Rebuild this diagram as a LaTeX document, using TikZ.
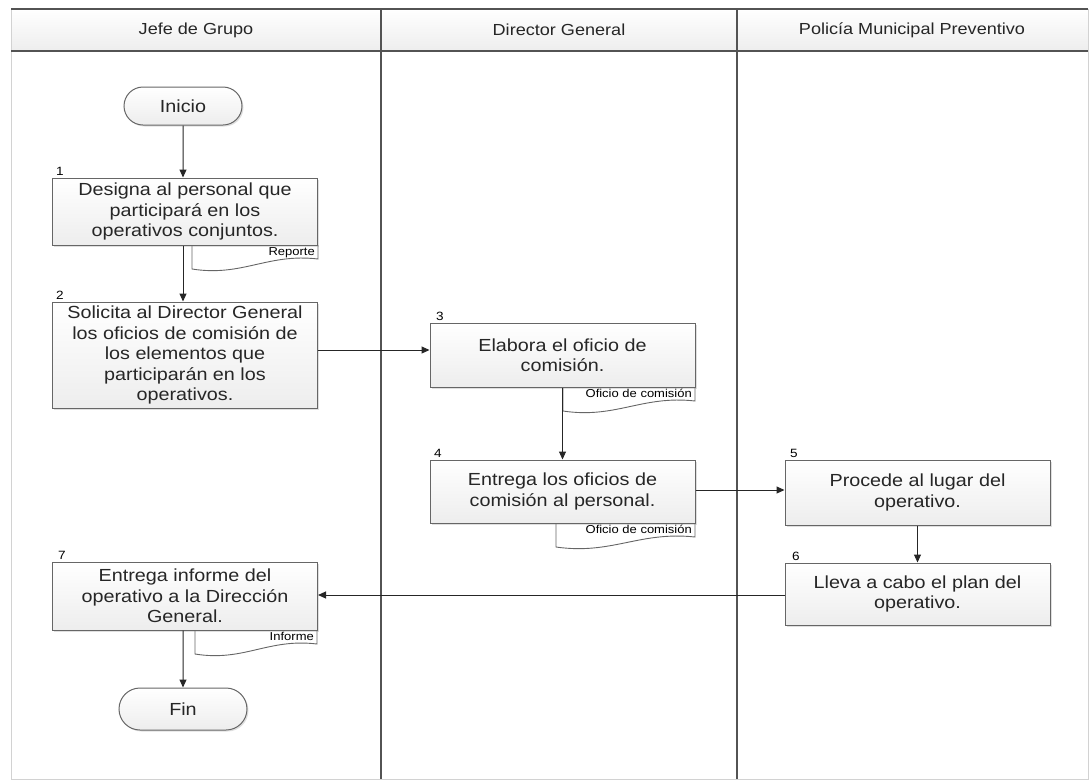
\documentclass[tikz,border=0pt]{standalone}
\usepackage{fontspec}
\setmainfont{Liberation Sans}[FakeStretch=1.13]
\usetikzlibrary{arrows.meta,shapes,shadows}

% document symbol under a process box: name, left x, right x, top y, label
\newcommand{\docpage}[5]{%
  \draw[docline] (#2,#4) -- (#2,#4+24) .. controls (#2*0.6+#3*0.4,#4+32) and (#2*0.4+#3*0.6,#4+8) .. (#3,#4+14) -- (#3,#4);
  \node[doclbl] (#1) at (#3-2,#4+1) {#5};
}

\begin{document}
\begin{tikzpicture}[x=1pt, y=-1pt,
    proc/.style={draw=gray!80!black, line width=1pt, top color=white, bottom color=gray!14,
      drop shadow={opacity=0.25, shadow xshift=1.5pt, shadow yshift=-1.5pt},
      minimum width=265pt, align=center, inner sep=2pt, text=black!85,
      font=\fontsize{17.5}{20.5}\selectfont},
    term/.style={proc, rounded rectangle, minimum width=122pt, minimum height=38pt},
    num/.style={anchor=south west, inner sep=0pt, font=\fontsize{12}{12}\selectfont},
    docline/.style={draw=gray!80!black, line width=0.9pt, fill=white},
    doclbl/.style={anchor=north east, inner sep=1pt, font=\fontsize{11.5}{12}\selectfont},
    lane/.style={draw=gray!65!black, line width=1.6pt},
    hdr/.style={font=\fontsize{16}{18}\selectfont, text=black!85},
    flow/.style={draw=gray!30!black, line width=1pt, -{Triangle[length=8pt,width=7pt]}}]
  \useasboundingbox (0,0) rectangle (1091,780);

  % lanes
  \shade[top color=white, bottom color=gray!14] (11,9) rectangle (1088,51);
  \draw[gray!35, line width=1pt] (11,9) rectangle (1088,779);
  \draw[lane] (11,9) -- (1088,9);
  \draw[lane] (11,51) -- (1088,51);
  \draw[lane] (381,9) -- (381,779);
  \draw[lane] (737,9) -- (737,779);
  \node[hdr] (hjefe) at (196,30) {Jefe de Grupo};
  \node[hdr] (hdir) at (559,30) {Director General};
  \node[hdr] (hpol) at (912,30) {Policía Municipal Preventivo};

  % documents
  \docpage{d1}{192}{318}{245}{Reporte}
  \docpage{d3}{563}{695}{387}{Oficio de comisión}
  \docpage{d4}{556}{695}{523}{Oficio de comisión}
  \docpage{d7}{195}{317}{630}{Informe}

  % steps
  \node[term] (inicio) at (183,106) {Inicio};
  \node[proc, minimum height=67pt] (p1) at (185,211.5) {Designa al personal que\\participará en los\\operativos conjuntos.};
  \node[proc, minimum height=106pt] (p2) at (185,355) {Solicita al Director General\\los oficios de comisión de\\los elementos que\\participarán en los\\operativos.};
  \node[proc, minimum height=64pt] (p3) at (562.5,355) {Elabora el oficio de\\comisión.};
  \node[proc, minimum height=63pt] (p4) at (562.5,491.5) {Entrega los oficios de\\comisión al personal.};
  \node[proc, minimum height=65pt] (p5) at (917.5,492.5) {Procede al lugar del\\operativo.};
  \node[proc, minimum height=62pt] (p6) at (917.5,594) {Lleva a cabo el plan del\\operativo.};
  \node[proc, minimum height=68pt] (p7) at (185,596) {Entrega informe del\\operativo a la Dirección\\General.};
  \node[term, minimum width=132pt, minimum height=42pt] (fin) at (183,709) {Fin};

  \node[num] (n1) at (56,176) {1};
  \node[num] (n2) at (56,300) {2};
  \node[num] (n3) at (436,321) {3};
  \node[num] (n4) at (434,458) {4};
  \node[num] (n5) at (790,458) {5};
  \node[num] (n6) at (792,561) {6};
  \node[num] (n7) at (58,560) {7};

  % connectors
  \draw[flow] (inicio) -- (inicio |- p1.north);
  \draw[flow] (p1.south -| inicio) -- (p2.north -| inicio);
  \draw[flow] (p2.east |- 0,350) -- (p3.west |- 0,350);
  \draw[flow] (p3) -- (p4);
  \draw[flow] (p4.east |- 0,490) -- (p5.west |- 0,490);
  \draw[flow] (p5) -- (p6);
  \draw[flow] (p6.west |- 0,595) -- (p7.east |- 0,595);
  \draw[flow] (p7.south -| fin) -- (fin);
\end{tikzpicture}
\end{document}
